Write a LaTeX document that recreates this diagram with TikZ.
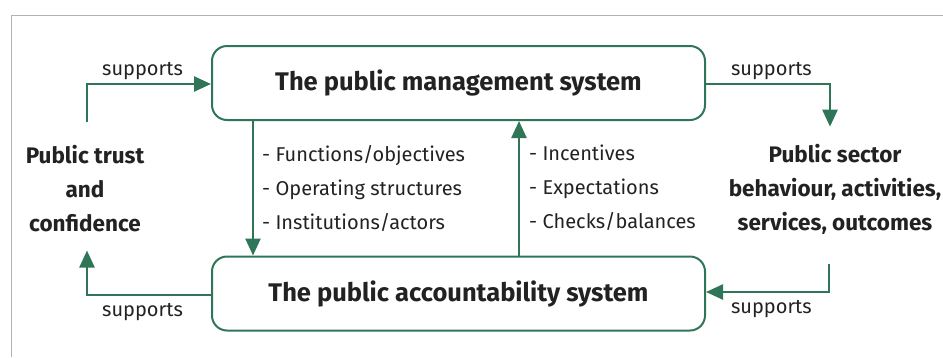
\documentclass[tikz,border=0pt]{standalone}
\usepackage{fontspec}
\setmainfont{Fira Sans}
\usepackage{xcolor}
\usetikzlibrary{arrows.meta}
\definecolor{pagreen}{HTML}{2F7659}
\definecolor{patext}{HTML}{222222}

\begin{document}
\begin{tikzpicture}[x=1pt,y=-1pt,
  sysbox/.style={draw=pagreen,line width=2pt,rounded corners=15pt,
    minimum width=493pt,minimum height=74pt,inner sep=0pt,
    text=patext,font=\fontsize{25.5}{30}\selectfont\bfseries},
  sidetext/.style={align=center,inner sep=0pt,text=patext,
    font=\fontsize{22.5}{34}\selectfont\bfseries},
  listtext/.style={align=left,inner sep=0pt,anchor=west,text=patext,
    font=\fontsize{20}{34}\selectfont},
  conn/.style={draw=pagreen,line width=2.5pt,
    -{Triangle[length=17pt,width=15pt]}},
  suplabel/.style={text=patext,font=\fontsize{20}{24}\selectfont,inner sep=3pt}
]
\useasboundingbox (0,0) rectangle (943,357);
\draw[gray!60,line width=1pt] (11,357) -- (11,15) -- (943,15);

\node[sysbox] (mgmt) at (458.5,83) {The public management system};
\node[sysbox] (acc) at (458.5,293.5) {The public accountability system};

\node[sidetext] (trust) at (85,189) {Public trust\\and\\confidence};
\node[sidetext] (sector) at (835,189) {Public sector\\behaviour, activities,\\services, outcomes};

\node[listtext] (down) at (262,188) {- Functions/objectives\\- Operating structures\\- Institutions/actors};
\node[listtext] (up) at (529,188) {- Incentives\\- Expectations\\- Checks/balances};

\draw[conn] ([xshift=-205.5pt]mgmt.south) -- ([xshift=-205.5pt]acc.north);
\draw[conn] ([xshift=60.5pt]acc.north) -- ([xshift=60.5pt]mgmt.south);

\draw[conn] ([xshift=2pt,yshift=23pt]trust.north) |- ([yshift=-1pt]mgmt.west)
  node[suplabel,pos=0.724,above] {supports};
\draw[conn] ([yshift=-1pt]mgmt.east) -| ([xshift=-5pt,yshift=17pt]sector.north)
  node[suplabel,pos=0.264,above] {supports};
\draw[conn] ([yshift=-1.5pt]acc.west) -| ([xshift=2pt,yshift=-18pt]trust.south)
  node[suplabel,pos=0.276,below,inner sep=7pt] {supports};
\draw[conn] ([xshift=-6pt,yshift=-30pt]sector.south) |- ([yshift=1.5pt]acc.east)
  node[suplabel,pos=0.734,below,inner sep=7pt] {supports};
\end{tikzpicture}
\end{document}
